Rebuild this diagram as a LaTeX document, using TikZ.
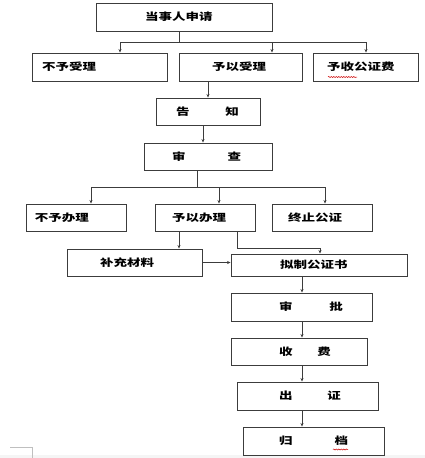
\documentclass[tikz,border=0pt]{standalone}
\usepackage{fontspec}
\newfontfamily\cjk[FakeStretch=1.35]{Noto Sans CJK SC}
\usetikzlibrary{arrows.meta,decorations.pathmorphing}
\definecolor{ln}{RGB}{60,60,60}
\tikzset{
  box/.style={draw=ln, line width=0.9pt, inner sep=0pt, font=\cjk\bfseries\fontsize{10}{10}\selectfont, text=black},
  conn/.style={draw=ln, line width=0.8pt},
  arr/.style={conn, -{Stealth[length=3.5pt,width=3pt]}},
  spell/.style={draw=red!80!black, line width=0.5pt, decorate, decoration={snake, amplitude=0.6pt, segment length=2.5pt}}
}
\newcommand{\bx}[3]{\makebox[#1pt][l]{\hspace{#2pt}#3}}
\begin{document}
\begin{tikzpicture}[x=1pt,y=-1pt]
\useasboundingbox (0,0) rectangle (425,458);
\fill[gray!8] (0,455) rectangle (425,458);
\draw[gray!50, line width=0.6pt] (10,447) coordinate (m1) -- (32,447) coordinate (m2) -- (32,458) coordinate (m3);

% row 1
\node[box, minimum width=176pt, minimum height=28pt] (a) at (184,17) {\bx{176}{49}{当事人申请}};
% row 2
\node[box, minimum width=135pt, minimum height=28pt] (b1) at (99.5,67) {\bx{135}{10}{不予受理}};
\node[box, minimum width=123pt, minimum height=28pt] (b2) at (240.5,67) {\bx{123}{33}{予以受理}};
\node[box, minimum width=105pt, minimum height=28pt] (b3) at (365.5,67) {\bx{105}{14}{予收公证费}};
% row 3
\node[box, minimum width=104pt, minimum height=27pt] (c) at (208,111.5) {\bx{104}{20}{告\hspace{36pt}知}};
\node[box, minimum width=128pt, minimum height=27pt] (d) at (208,156.5) {\bx{128}{28}{审\hspace{42pt}查}};
% row 4
\node[box, minimum width=100pt, minimum height=27pt] (e1) at (76,217.5) {\bx{100}{9}{不予办理}};
\node[box, minimum width=100pt, minimum height=27pt] (e2) at (205,217.5) {\bx{100}{17}{予以办理}};
\node[box, minimum width=100pt, minimum height=27pt] (e3) at (322,217.5) {\bx{100}{16}{终止公证}};
% row 5
\node[box, minimum width=135pt, minimum height=27pt] (f) at (134.5,262.5) {\bx{135}{33}{补充材料}};
\node[box, minimum width=176pt, minimum height=22pt] (g) at (319,265) {\bx{176}{49}{拟制公证书}};
% chain
\node[box, minimum width=141pt, minimum height=28pt] (h) at (301.5,307) {\bx{141}{48}{审\hspace{37pt}批}};
\node[box, minimum width=136pt, minimum height=27pt] (i) at (299,351.5) {\bx{136}{48}{收\hspace{25pt}费}};
\node[box, minimum width=141pt, minimum height=28pt] (j) at (307.5,396) {\bx{141}{42}{出\hspace{35pt}证}};
\node[box, minimum width=141pt, minimum height=28pt] (k) at (313.5,441) {\bx{141}{36}{归\hspace{42pt}档}};

% spell-check marks
\draw[spell] (328,77) -- (357,77);
\draw[spell] (333,449.5) -- (348,449.5);

% connectors
\coordinate (j1) at (179,42);
\draw[conn] (a.south -| j1) -- (j1);
\draw[conn] (120,42) coordinate (l1) -- (366,42) coordinate (r1);
\draw[arr] (l1) -- (l1 |- b1.north);
\draw[arr] (272,42) coordinate (m1b) -- (m1b |- b2.north);
\draw[arr] (r1) -- (r1 |- b3.north);

\draw[arr] (208,81) coordinate (t1) -- (t1 |- c.north);
\draw[arr] (203,125) coordinate (t2) -- (t2 |- d.north);

\coordinate (j2) at (197,187);
\draw[conn] (j2 |- d.south) -- (j2);
\draw[conn] (91,187) coordinate (l2) -- (325,187) coordinate (r2);
\draw[arr] (l2) -- (l2 |- e1.north);
\draw[arr] (219,187) coordinate (m2b) -- (m2b |- e2.north);
\draw[arr] (r2) -- (r2 |- e3.north);

\draw[arr] (179,231) coordinate (t3) -- (t3 |- f.north);
\draw[conn] (237,231) coordinate (t4) -- (237,248) coordinate (t5) -- (320,248) coordinate (t6);
\draw[arr] (t6) -- (t6 |- g.north);
\draw[arr] (f.east) -- (f.east -| g.west);

\draw[arr] (302,276) coordinate (t7) -- (t7 |- h.north);
\draw[arr] (302,321) coordinate (t8) -- (t8 |- i.north);
\draw[arr] (302,365) coordinate (t9) -- (t9 |- j.north);
\draw[arr] (302,410) coordinate (t10) -- (t10 |- k.north);
\end{tikzpicture}
\end{document}
